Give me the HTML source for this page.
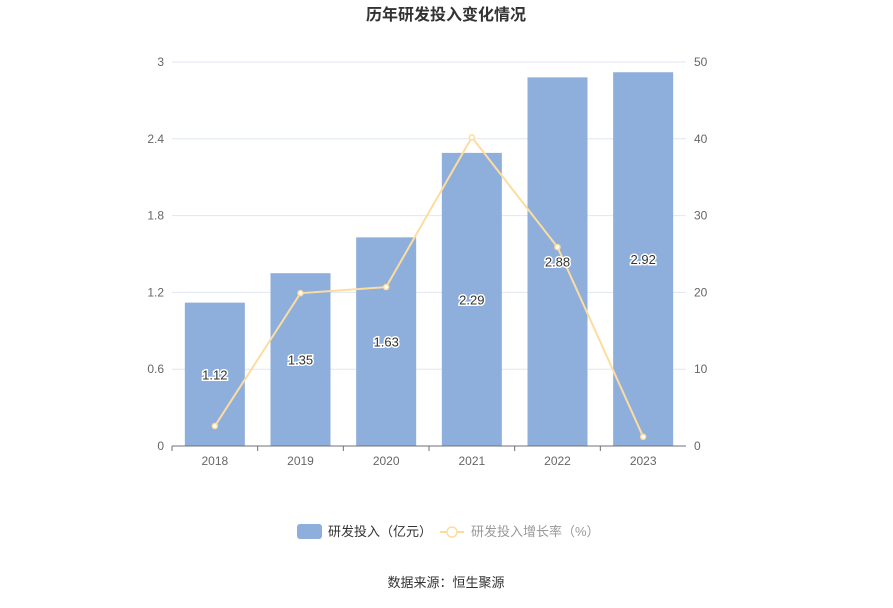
<!DOCTYPE html>
<html><head><meta charset="utf-8"><style>
body{margin:0;background:#fff;font-family:"Liberation Sans","Noto Sans CJK SC",sans-serif;}
</style></head><body>
<svg id="chart" width="893" height="603" xmlns="http://www.w3.org/2000/svg" font-family="Liberation Sans, Noto Sans CJK SC, sans-serif">
<text x="446" y="20" text-anchor="middle" font-size="16" font-weight="bold" fill="#333">历年研发投入变化情况</text>
<g id="grid"></g><g id="bars"></g><g id="line"></g><g id="labels"></g><g id="axes"></g>
<g>
<g>
<rect x="297" y="524" width="25" height="15" rx="3" fill="#8eaedb"/>
<text x="328" y="536" font-size="13" fill="#333">研发投入（亿元）</text></g>
<g>
<line x1="440" y1="532" x2="464" y2="532" stroke="#fddca0" stroke-width="2"/>
<circle cx="452" cy="532" r="5" fill="#fff" stroke="#fddca0" stroke-width="1.5"/>
<text x="471" y="536" font-size="13" fill="#999">研发投入增长率（%）</text></g>
</g>
<text x="446" y="587" text-anchor="middle" font-size="13" fill="#333">数据来源：恒生聚源</text>
</svg>
<script>
const categories=["2018","2019","2020","2021","2022","2023"];
const investment=[1.12,1.35,1.63,2.29,2.88,2.92];
const growthRate=[2.6,19.9,20.7,40.2,25.9,1.2];
const leftTicks=[0,0.6,1.2,1.8,2.4,3];
const rightTicks=[0,10,20,30,40,50];
const NS="http://www.w3.org/2000/svg";
const L=172,R=686,T=62,B=446;
const bw=(R-L)/categories.length;
const xc=i=>L+bw*(i+0.5);
const yl=v=>B-(v/3)*(B-T);
const yr=v=>B-(v/50)*(B-T);
function mk(p,tag,a){const e=document.createElementNS(NS,tag);for(const k in a)e.setAttribute(k,a[k]);document.getElementById(p).appendChild(e);return e;}
leftTicks.forEach((t,i)=>{
 if(t>0){const g=mk('grid','line',{x1:L,x2:R,y1:yl(t),y2:yl(t),stroke:'#e0e6f1'});
 
 }
 const lt=mk('axes','text',{x:L-8,y:yl(t)+4,'text-anchor':'end','font-size':12,fill:'#666'});lt.textContent=t;
 
 
});
rightTicks.forEach(t=>{
 const rt=mk('axes','text',{x:R+8,y:yr(t)+4,'font-size':12,fill:'#666'});rt.textContent=t;
 
 
});
const ax=mk('axes','line',{x1:L,x2:R,y1:B,y2:B,stroke:'#6e7079'});


categories.forEach((c,i)=>{
 const tk=mk('axes','line',{x1:L+bw*i,x2:L+bw*i,y1:B,y2:B+5,stroke:'#6e7079'});
 
 
 const xt=mk('axes','text',{x:xc(i),y:B+19,'text-anchor':'middle','font-size':12,fill:'#666'});xt.textContent=c;
 
 
 const v=investment[i];
 const b=mk('bars','rect',{x:xc(i)-30,y:yl(v),width:60,height:B-yl(v),fill:'#8eaedb'});
 
 
 const lb=mk('labels','text',{x:xc(i),y:(yl(v)+B)/2+5,'text-anchor':'middle','font-size':13,fill:'#333',stroke:'#fff','stroke-width':3,'paint-order':'stroke'});lb.textContent=v.toFixed(2);
 
 
});
const pts=growthRate.map((v,i)=>xc(i)+','+yr(v)).join(' ');
const pl=mk('line','polyline',{points:pts,fill:'none',stroke:'#fddca0','stroke-width':2});


growthRate.forEach((v,i)=>{
 const c=mk('line','circle',{cx:xc(i),cy:yr(v),r:2.5,fill:'#fff',stroke:'#fddca0','stroke-width':1.5});
 
 
});
</script>
</body></html>
